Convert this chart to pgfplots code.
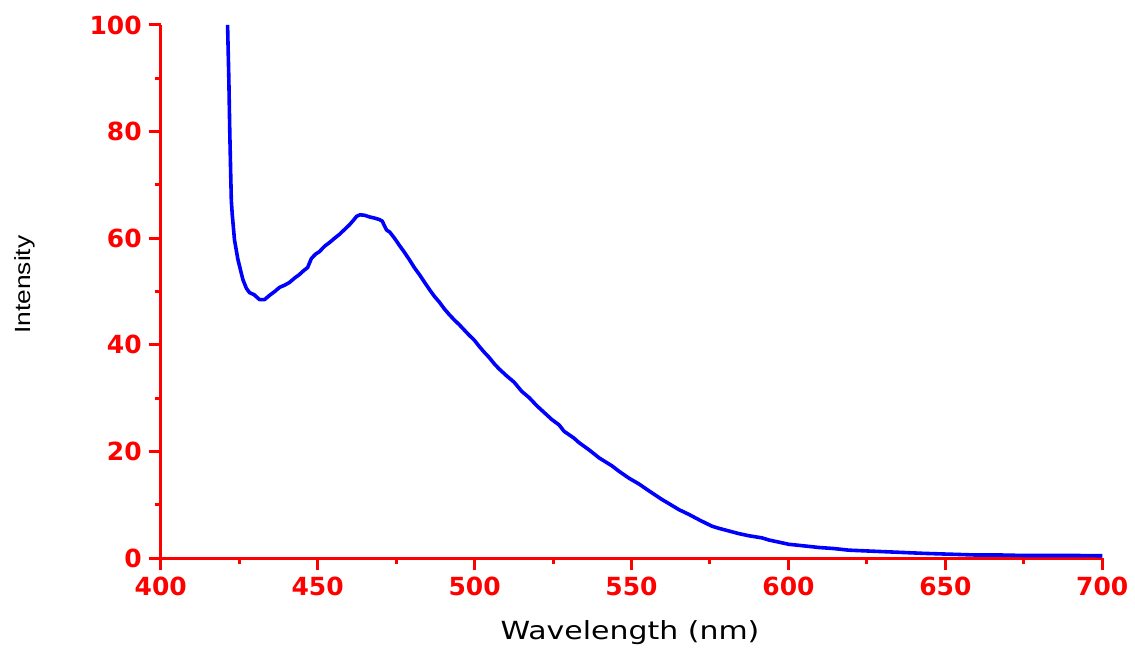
\documentclass[border=0pt]{standalone}
\usepackage{fontspec}
\usepackage{pgfplots}
\pgfplotsset{compat=1.18}
\newfontfamily\tickfont{DejaVu Sans}
\newfontfamily\xlabfont[FakeStretch=1.2]{DejaVu Sans}
\newfontfamily\ylabfont[FakeStretch=1.2]{Liberation Sans}

\begin{document}
\begin{tikzpicture}
\begin{axis}[
    scale only axis,
    width=471.5pt, height=267pt,
    xmin=400, xmax=700, ymin=0, ymax=100,
    clip=false,
    axis lines*=left,
    axis line style={red, line width=1.5pt},
    xtick distance=50, ytick distance=20,
    minor x tick num=1, minor y tick num=1,
    tick align=outside,
    major tick length=6pt, minor tick length=3pt,
    every tick/.style={red, line width=1.5pt},
    /pgf/number format/assume math mode=true,
    ticklabel style={font=\tickfont\bfseries\fontsize{12.5}{15}\selectfont, text=red},
    xlabel={Wavelength (nm)},
    ylabel={Intensity},
    xlabel style={font=\xlabfont\fontsize{12.5}{15}\selectfont, at={(rel axis cs:0.4984,-0.1517)}, anchor=base},
    ylabel style={font=\ylabfont\fontsize{11}{13}\selectfont, at={(rel axis cs:-0.1442,0.513)}, anchor=center},
]
% spectrum
\addplot[blue, line width=1.8pt, line join=round] coordinates {
    (421.3,100) (421.7,90) (422.0,80) (422.3,72) (422.5,67) (422.8,64.4)
    (423.5,59.7) (424.6,56.0) (426.2,52.2) (427.3,50.6) (428.3,49.8) (429.8,49.4)
    (430.5,49.0) (431.5,48.5) (433.1,48.5) (434.7,49.3) (436.3,50.0) (437.9,50.8)
    (439.5,51.2) (441.0,51.7) (442.6,52.5) (444.2,53.2) (445.5,53.9) (446.8,54.5)
    (448.0,56.2) (449.3,57.0) (450.6,57.5) (452.2,58.5) (453.8,59.2) (455.4,60.0)
    (456.9,60.7) (458.5,61.6) (460.1,62.5) (461.3,63.3) (462.4,64.1) (463.5,64.4)
    (465.0,64.3) (466.5,64.0) (468.0,63.8) (469.7,63.5) (470.6,63.2) (471.3,62.3)
    (472.0,61.5) (472.9,61.2) (474.5,60.0) (476.0,58.7) (477.6,57.4) (479.2,56.0)
    (480.8,54.5) (482.4,53.2) (484.0,51.8) (485.6,50.4) (487.2,49.1) (488.8,48.0)
    (490.3,46.8) (491.9,45.7) (493.5,44.7) (495.1,43.8) (496.7,42.8) (498.3,41.8)
    (499.9,40.9) (501.5,39.7) (503.1,38.6) (504.7,37.6) (506.2,36.5) (507.8,35.5)
    (510.2,34.2) (512.6,33.0) (515.0,31.3) (517.4,30.1) (519.8,28.6) (522.2,27.3)
    (524.6,26.0) (526.9,25.0) (528.5,23.8) (531.7,22.5) (533.2,21.7) (536.5,20.3)
    (539.7,18.8) (543.8,17.3) (546.0,16.3) (549.2,15.0) (552.4,13.9) (555.6,12.6)
    (559.7,11.0) (562.0,10.2) (565.1,9.1) (568.3,8.2) (571.5,7.2) (575.6,6.0)
    (577.8,5.6) (581.0,5.1) (584.2,4.6) (587.4,4.2) (591.6,3.8) (593.8,3.4)
    (597.0,3.0) (600.1,2.6) (605.0,2.3) (609.7,2.0) (614.5,1.8) (619.2,1.5)
    (627.0,1.3) (635.1,1.1) (643.0,0.9) (651.0,0.75) (659.0,0.6) (666.9,0.6)
    (675.0,0.5) (683.0,0.5) (691.0,0.5) (700.0,0.45)
};
% picture frame as in the reference
\path (rel axis cs:-0.1707,-0.1667) rectangle (rel axis cs:1.0329,1.0468);
\end{axis}
\end{tikzpicture}
\end{document}
